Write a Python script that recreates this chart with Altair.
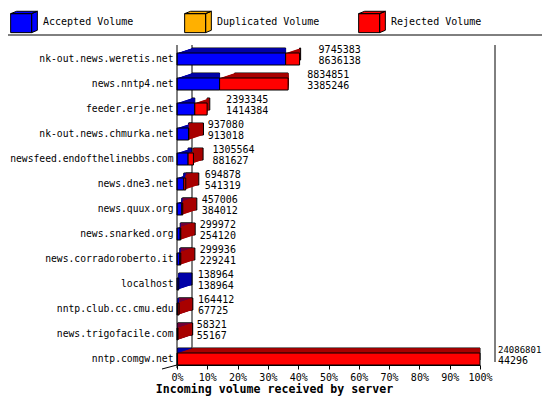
import altair as alt
import pandas as pd

servers = ["nk-out.news.weretis.net", "news.nntp4.net", "feeder.erje.net",
    "nk-out.news.chmurka.net", "newsfeed.endofthelinebbs.com", "news.dne3.net",
    "news.quux.org", "news.snarked.org", "news.corradoroberto.it", "localhost",
    "nntp.club.cc.cmu.edu", "news.trigofacile.com", "nntp.comgw.net"]
offered = [9745383, 8834851, 2393345, 937080, 1305564, 694878, 457006,
    299972, 299936, 138964, 164412, 58321, 24086801]
accepted = [8636138, 3385246, 1414384, 913018, 881627, 541319, 384012,
    254120, 229241, 138964, 67725, 55167, 44296]
duplicated = [0, 0, 0, 0, 0, 0, 0, 0, 0, 0, 0, 0, 0]

segments = ["Accepted Volume", "Duplicated Volume", "Rejected Volume"]
front_colors = ["#0000ff", "#ffb000", "#ff0000"]
dark_colors = ["#0000a8", "#a87400", "#a80000"]
pct_ticks = [0, 0.1, 0.2, 0.3, 0.4, 0.5, 0.6, 0.7, 0.8, 0.9, 1.0]

FONT = "DejaVu Sans Mono"
W, H = 303, 325
DX, DY, STEPS = 15, 5, 15
BAR = 12
# little cube for the legend: front face, top face, side face
CUBE = ("M-1,-0.622H0.573V0.8H-1Z"
    "M-1,-0.622L-0.551,-0.8H1L0.573,-0.622Z"
    "M0.573,-0.622L1,-0.8V0.622L0.573,0.8Z")

def build_frames():
    top = max(offered)
    rows = []
    for s, off, acc, dup in zip(servers, offered, accepted, duplicated):
        rej = off - acc - dup
        start = 0
        for seg, val, dark in zip(segments, [acc, dup, rej], dark_colors):
            if val > 0:
                rows.append({"server": s, "segment": seg, "x0": start / top,
                    "x1": (start + val) / top, "dark": dark})
            start += val
    bars = pd.DataFrame(rows)
    labels = pd.DataFrame({"server": servers, "share": [o / top for o in offered],
        "offered": offered, "accepted": accepted})
    return bars, labels

bars, labels = build_frames()

# same axis objects in every layer so that the layers agree
x_axis = alt.Axis(format = ".0%", values = pct_ticks, grid = False, domainColor = "black",
    tickColor = "black", tickSize = 4, labelFlush = False, labelFont = FONT, labelFontSize = 10,
    labelColor = "black", labelPadding = 3, offset = -6.5,
    title = "Incoming volume received by server", titleFont = FONT, titleFontSize = 11.6,
    titleFontWeight = "bold", titleColor = "black", titleX = 97, titleY = 24,
    titleAlign = "center", titleBaseline = "middle")
y_axis = alt.Axis(title = None, domain = False, ticks = False, tickSize = 0, labelPadding = 4,
    labelFont = FONT, labelFontSize = 9.7, labelColor = "black", labelLimit = 300)
x_scale = alt.Scale(domain = [0, 1])
y_enc = alt.Y("server:N", sort = servers, scale = alt.Scale(paddingInner = 0, paddingOuter = 0), axis = y_axis)

def xq(field):
    return alt.X(field, scale = x_scale, axis = x_axis)

# extrusion: slices from the back to the front, darker shade
layers = []
for k in range(STEPS, 0, -1):
    extra = {"stroke": "black", "strokeWidth": 1} if k == STEPS else {"strokeWidth": 0}
    layers.append(alt.Chart(bars).mark_bar(size = BAR, xOffset = k * DX / STEPS,
        yOffset = -k * DY / STEPS, opacity = 1, **extra).encode(
        x = xq("x0:Q"), x2 = "x1:Q", y = y_enc, color = alt.Color("dark:N", scale = None)))

front = alt.Chart(bars).mark_bar(size = BAR, stroke = "black", strokeWidth = 1, opacity = 1).encode(
    x = xq("x0:Q"), x2 = "x1:Q", y = y_enc,
    color = alt.Color("segment:N", scale = alt.Scale(domain = segments, range = front_colors),
        legend = alt.Legend(title = None, orient = "none", legendX = -167, legendY = -38.7,
            direction = "horizontal", columns = 3, gridAlign = "all", columnPadding = 36,
            symbolType = CUBE, symbolSize = 713, symbolStrokeColor = "black",
            symbolStrokeWidth = 1, symbolOpacity = 1, labelFont = FONT, labelFontSize = 10,
            labelColor = "black", labelOffset = 5, padding = 0)))

def value_text(field, dy, cond, dx, size):
    return alt.Chart(labels).transform_filter(cond).mark_text(align = "left", baseline = "middle",
        dx = dx, dy = dy, font = FONT, fontSize = size, color = "black").encode(
        x = xq("share:Q"), y = y_enc, text = alt.Text(field, format = "d"))

# the longest bar has its numbers squeezed a little so they stay on the page
texts = [value_text("offered:Q", -9, "datum.share < 0.9", 19, 10),
    value_text("accepted:Q", 2, "datum.share < 0.9", 19, 10),
    value_text("offered:Q", -9, "datum.share >= 0.9", 18, 9),
    value_text("accepted:Q", 2, "datum.share >= 0.9", 18, 10)]

edges = pd.DataFrame({"edge": [0, 1]})
back_wall = alt.Chart(edges).mark_rule(color = "black", xOffset = DX).encode(
    x = xq("edge:Q"), y = alt.value(-1.5), y2 = alt.value(315.5))
front_wall = alt.Chart(edges.head(1)).mark_rule(color = "black").encode(
    x = xq("edge:Q"), y = alt.value(-1.5), y2 = alt.value(321.5))
floor_edge = alt.Chart(edges.head(1)).mark_rule(color = "black").encode(
    x = alt.value(-15), y = alt.value(322.5), x2 = alt.value(0), y2 = alt.value(318.5))
divider = alt.Chart(edges.head(1)).mark_rule(color = "black").encode(
    x = alt.value(-169), x2 = alt.value(365), y = alt.value(-11.5))

chart = alt.layer(back_wall, *layers, front, front_wall, floor_edge, *texts, divider).properties(
    width = W, height = H, autosize = "none", background = "white",
    padding = {"left": 169, "top": 38.5, "right": 62, "bottom": 25.5}
).configure_view(stroke = None)

chart.save("out.html", embed_options = {"renderer": "svg", "actions": False})
